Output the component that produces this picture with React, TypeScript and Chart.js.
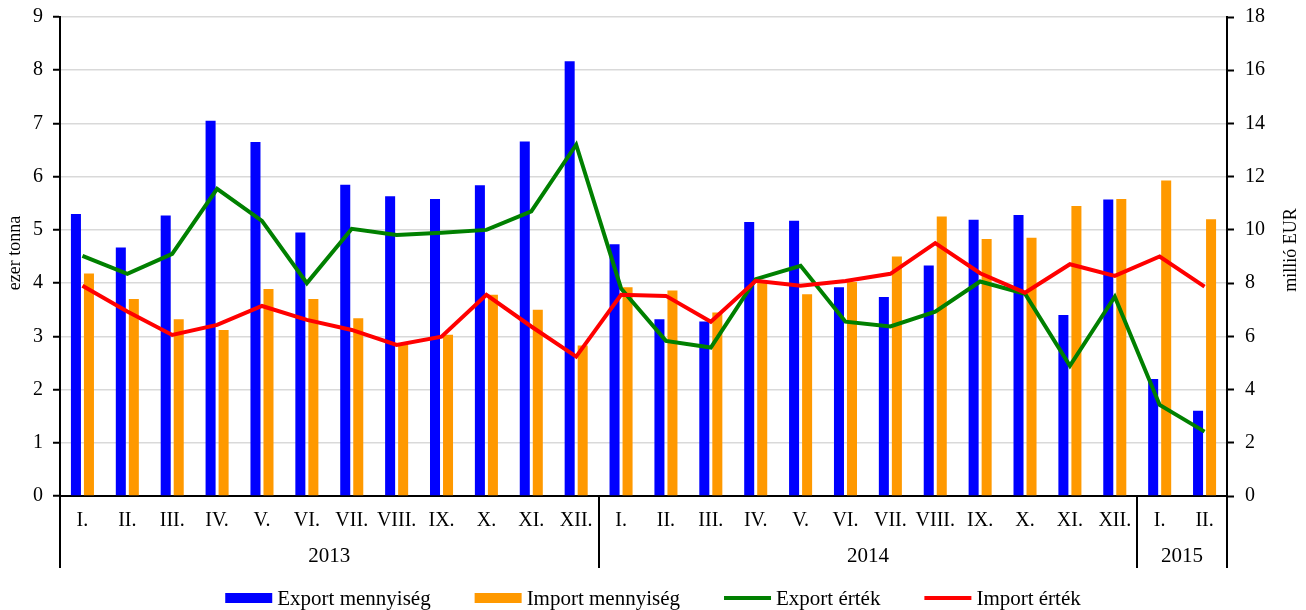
import React, { useEffect, useRef } from "react";
import { Chart, registerables } from "chart.js";

Chart.register(...registerables);

const months2013 = ["I.", "II.", "III.", "IV.", "V.", "VI.", "VII.", "VIII.", "IX.", "X.", "XI.", "XII."];
const months2014 = ["I.", "II.", "III.", "IV.", "V.", "VI.", "VII.", "VIII.", "IX.", "X.", "XI.", "XII."];
const months2015 = ["I.", "II."];
const categories = [...months2013, ...months2014, ...months2015];

const yearLabels = ["2013", "2014", "2015"];
const yearCounts = [12, 12, 2];

// ezer tonna (left axis)
const exportQty = [5.3, 4.67, 5.27, 7.05, 6.65, 4.95, 5.85, 5.63, 5.58, 5.84, 6.66, 8.17,
  4.73, 3.32, 3.28, 5.15, 5.17, 3.92, 3.74, 4.33, 5.19, 5.28, 3.4, 5.57,
  2.2, 1.6];
const importQty = [4.18, 3.7, 3.32, 3.12, 3.89, 3.7, 3.34, 2.85, 3.03, 3.78, 3.5, 2.83,
  3.92, 3.86, 3.45, 4.02, 3.79, 4.02, 4.5, 5.25, 4.83, 4.85, 5.45, 5.58,
  5.93, 5.2];
// millió EUR (right axis)
const exportVal = [9.02, 8.35, 9.1, 11.54, 10.34, 8.0, 10.04, 9.81, 9.89, 10.0, 10.7, 13.2,
  7.8, 5.83, 5.58, 8.15, 8.65, 6.55, 6.37, 6.93, 8.06, 7.6, 4.89, 7.49,
  3.42, 2.42];
const importVal = [7.9, 6.93, 6.05, 6.43, 7.14, 6.62, 6.24, 5.68, 5.99, 7.56, 6.37, 5.24,
  7.56, 7.52, 6.55, 8.09, 7.9, 8.08, 8.35, 9.5, 8.37, 7.64, 8.71, 8.27,
  9.0, 7.87];

const seriesNames = ["Export mennyiség", "Import mennyiség", "Export érték", "Import érték"];
const leftTitle = "ezer tonna";
const rightTitle = "millió EUR";

const FONT = "'Liberation Serif', 'Times New Roman', serif";
const BLUE = "#0000FF";
const ORANGE = "#FF9900";
const GREEN = "#008000";
const RED = "#FF0000";

const extrasPlugin = {
  id: "extras",
  afterDraw(chart: any) {
    const ctx = chart.ctx;
    const area = chart.chartArea;
    const xs = chart.scales.x;
    const n = categories.length;
    const step = (xs.right - xs.left) / n;
    const extBottom = 568;

    ctx.save();
    // separators and axis extensions
    ctx.strokeStyle = "#000";
    ctx.lineWidth = 2;
    let idx = 0;
    const bounds = [0];
    yearCounts.forEach((c) => {
      idx += c;
      bounds.push(idx);
    });
    bounds.forEach((b) => {
      const px = Math.round(xs.left + b * step);
      ctx.beginPath();
      ctx.moveTo(px, area.bottom);
      ctx.lineTo(px, extBottom);
      ctx.stroke();
    });

    // year labels
    ctx.fillStyle = "#000";
    ctx.font = `21px ${FONT}`;
    ctx.textAlign = "center";
    ctx.textBaseline = "middle";
    for (let i = 0; i < yearLabels.length; i++) {
      const cx = xs.left + ((bounds[i] + bounds[i + 1]) / 2) * step;
      ctx.fillText(yearLabels[i], cx, 556);
    }

    // axis titles
    ctx.font = `18px ${FONT}`;
    ctx.save();
    ctx.translate(15, 253);
    ctx.rotate(-Math.PI / 2);
    ctx.fillText(leftTitle, 0, 0);
    ctx.restore();
    ctx.save();
    ctx.translate(1291, 250);
    ctx.rotate(-Math.PI / 2);
    ctx.fillText(rightTitle, 0, 0);
    ctx.restore();

    // legend
    ctx.font = `21px ${FONT}`;
    ctx.textAlign = "left";
    const colors = [BLUE, ORANGE, GREEN, RED];
    const kinds = ["bar", "bar", "line", "line"];
    const boxW = 47;
    const gap = 5;
    const spacing = 44;
    const widths = seriesNames.map((s) => boxW + gap + ctx.measureText(s).width);
    const total = widths.reduce((a, b) => a + b, 0) + spacing * (widths.length - 1);
    let x = 653 - total / 2;
    const ly = 598;
    seriesNames.forEach((s, i) => {
      ctx.fillStyle = colors[i];
      ctx.strokeStyle = colors[i];
      if (kinds[i] === "bar") {
        ctx.fillRect(x, ly - 5, boxW, 10);
      } else {
        ctx.lineWidth = 4;
        ctx.beginPath();
        ctx.moveTo(x, ly);
        ctx.lineTo(x + boxW, ly);
        ctx.stroke();
      }
      ctx.fillStyle = "#000";
      ctx.fillText(s, x + boxW + gap, ly + 1);
      x += widths[i] + spacing;
    });
    ctx.restore();
  },
};

export default function App() {
  const ref = useRef<HTMLCanvasElement | null>(null);

  useEffect(() => {
    if (!ref.current) return;
    const tickFont = { family: FONT, size: 20 };
    const chart = new Chart(ref.current, {
      type: "bar",
      data: {
        labels: categories,
        datasets: [
          {
            type: "line",
            label: seriesNames[3],
            data: importVal,
            yAxisID: "y1",
            borderColor: RED,
            backgroundColor: RED,
            borderWidth: 4,
            pointRadius: 0,
            tension: 0,
            order: 0,
          },
          {
            type: "line",
            label: seriesNames[2],
            data: exportVal,
            yAxisID: "y1",
            borderColor: GREEN,
            backgroundColor: GREEN,
            borderWidth: 4,
            pointRadius: 0,
            tension: 0,
            order: 1,
          },
          {
            type: "bar",
            label: seriesNames[0],
            data: exportQty,
            yAxisID: "y",
            backgroundColor: BLUE,
            categoryPercentage: 0.58,
            barPercentage: 0.77,
            order: 2,
          },
          {
            type: "bar",
            label: seriesNames[1],
            data: importQty,
            yAxisID: "y",
            backgroundColor: ORANGE,
            categoryPercentage: 0.58,
            barPercentage: 0.77,
            order: 3,
          },
        ] as any,
      },
      options: {
        responsive: false,
        animation: false,
        layout: { padding: { top: 17, bottom: 42, left: 0, right: 0 } },
        plugins: {
          legend: { display: false },
          tooltip: { enabled: false },
        },
        scales: {
          x: {
            grid: { display: false, drawTicks: false },
            border: { color: "#000", width: 2 },
            ticks: { font: tickFont, color: "#000", padding: 13, maxRotation: 0, autoSkip: false },
            afterFit: (s: any) => {
              s.height = 72;
            },
          },
          y: {
            position: "left",
            min: 0,
            max: 9,
            ticks: { stepSize: 1, font: tickFont, color: "#000", padding: 10 },
            grid: { color: "#d9d9d9", lineWidth: 1.5, tickColor: "#000", tickLength: 7, tickWidth: 2 },
            border: { color: "#000", width: 2 },
            afterFit: (s: any) => {
              s.width = 60;
              s.paddingTop = 0;
              s.paddingBottom = 0;
            },
          },
          y1: {
            position: "right",
            min: 0,
            max: 18,
            ticks: { stepSize: 2, font: tickFont, color: "#000", padding: 11 },
            grid: { drawOnChartArea: false, tickColor: "#000", tickLength: 7, tickWidth: 2 },
            border: { color: "#000", width: 2 },
            afterFit: (s: any) => {
              s.width = 79;
              s.paddingTop = 0;
              s.paddingBottom = 0;
            },
          },
        },
      } as any,
      plugins: [extrasPlugin],
    });
    return () => chart.destroy();
  }, []);

  return (
    <div style={{ position: "fixed", left: 0, top: 0, width: 1306, height: 610, background: "#fff" }}>
      <canvas ref={ref} width={1306} height={610} style={{ display: "block" }} />
    </div>
  );
}
